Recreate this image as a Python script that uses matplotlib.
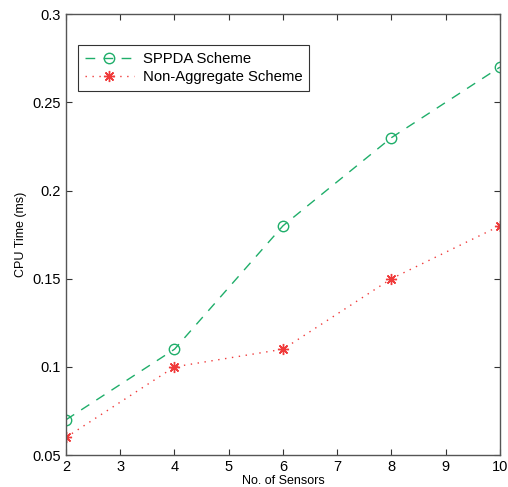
import matplotlib
matplotlib.use('Agg')
import matplotlib.pyplot as plt

plt.rcParams['font.family'] = ['Liberation Sans', 'DejaVu Sans']

# data
sensors = [2, 4, 6, 8, 10]
sppda = [0.07, 0.11, 0.18, 0.23, 0.27]
non_agg = [0.06, 0.10, 0.11, 0.15, 0.18]

green = '#1fae6a'
red = '#f03a3a'

fig = plt.figure(figsize=(5.08, 4.87), dpi=100)
ax = fig.add_axes([0.130, 0.0657, 0.854, 0.905])

ax.plot(sensors, sppda, linestyle=(0, (7, 6)), color=green, lw=1.0,
        marker='o', markersize=7.5, markerfacecolor='none', markeredgecolor=green,
        label='SPPDA Scheme')
ax.plot(sensors, non_agg, linestyle=(0, (1, 4)), color=red, lw=1.0,
        marker=(8, 2, 0), markersize=8, markeredgewidth=1.0,
        markerfacecolor=red, markeredgecolor=red,
        label='Non-Aggregate Scheme')

ax.set_xlim(2, 10)
ax.set_ylim(0.05, 0.3)
ax.set_xticks(range(2, 11))
ax.set_yticks([0.05, 0.1, 0.15, 0.2, 0.25, 0.3])
ax.set_yticklabels(['0.05', '0.1', '0.15', '0.2', '0.25', '0.3'])
ax.tick_params(direction='in', length=4, labelsize=10.5, width=0.8, top=True, right=True,
               colors='#333333', labelcolor='black')
for s in ax.spines.values():
    s.set_color('#555555')
    s.set_linewidth(1.0)

ax.set_xlabel('No. of Sensors', fontsize=9, labelpad=1)
ax.set_ylabel('CPU Time (ms)', fontsize=9, labelpad=4)

leg = ax.legend(loc='upper left', bbox_to_anchor=(0.0276, 0.930), borderaxespad=0,
                fontsize=10.7, frameon=True, fancybox=False, edgecolor='black',
                handlelength=3.3, handletextpad=0.6, borderpad=0.45, labelspacing=0.3)
leg.get_frame().set_linewidth(0.8)

fig.savefig('out.png', dpi=100)
